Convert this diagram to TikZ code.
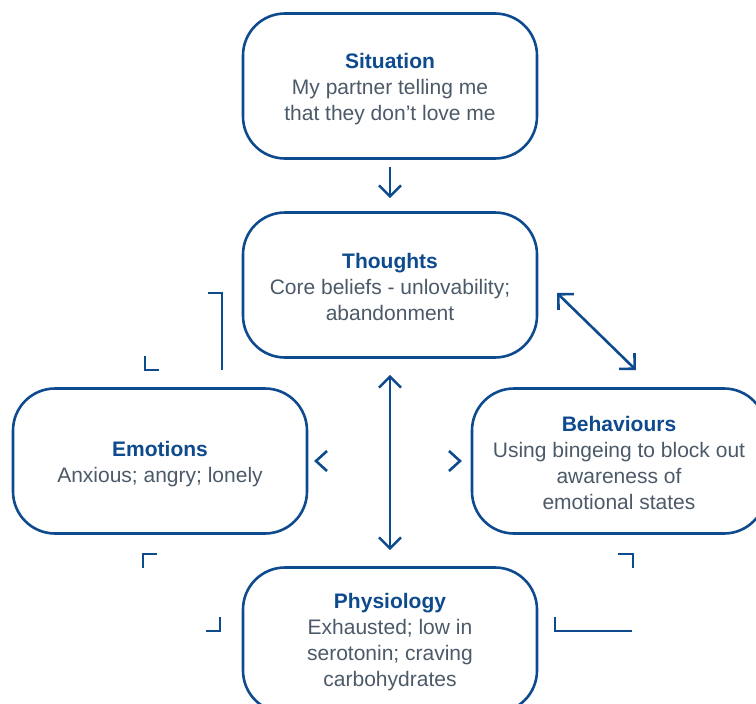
\documentclass[tikz,border=0pt]{standalone}
\usepackage{fontspec}
\setmainfont{Liberation Sans}
\usetikzlibrary{arrows.meta}
\definecolor{boxblue}{HTML}{0D4A8E}
\definecolor{bodygrey}{HTML}{4B5968}
\tikzset{
  card/.style={draw=boxblue, line width=2.6pt, rounded corners=42pt,
    minimum width=294pt, minimum height=145pt, inner sep=0pt},
  cardtext/.style={align=center, text=bodygrey, inner sep=0pt,
    font=\fontsize{21}{26}\selectfont},
  link/.style={draw=boxblue, line width=2.6pt,
    arrows={-Straight Barb[length=11pt, width=22pt, line width=2.6pt]}},
  twoway/.style={link, arrows={Straight Barb[length=11pt, width=22pt, line width=2.6pt]-Straight Barb[length=11pt, width=22pt, line width=2.6pt]}},
  stub/.style={draw=boxblue, line width=2.6pt},
  chevron/.style={draw=boxblue, line width=2.6pt, line join=miter},
}
\newcommand{\heading}[1]{{\bfseries\color{boxblue}#1}}
\begin{document}
\begin{tikzpicture}[x=1pt, y=-1pt]
  \useasboundingbox (0,0) rectangle (756,704);
  \clip (0,0) rectangle (756,704);

  % the five cards
  \node[card] (sit) at (390,86)  {};
  \node[card] (tho) at (390,285) {};
  \node[card] (emo) at (160,461) {};
  \node[card] (beh) at (619,461) {};
  \node[card] (phy) at (390,640) {};

  % their texts
  \node[cardtext] (sitT) at ([yshift=-3pt]sit.center) {\heading{Situation}\\My partner telling me\\that they don’t love me};
  \node[cardtext] (thoT) at ([yshift=-2pt]tho.center) {\heading{Thoughts}\\Core beliefs - unlovability;\\abandonment};
  \node[cardtext] (emoT) at ([yshift=-3pt]emo.center) {\heading{Emotions}\\Anxious; angry; lonely};
  \node[cardtext] (behT) at ([yshift=-2pt]beh.center) {\heading{Behaviours}\\Using bingeing to block out\\awareness of\\emotional states};
  \node[cardtext] (phyT) at ([yshift=-2pt]phy.center) {\heading{Physiology}\\Exhausted; low in\\serotonin; craving\\carbohydrates};

  % situation leads to thoughts
  \draw[link, shorten <=7pt, shorten >=13pt] (sit.south) -- (tho.north);

  % thoughts and physiology
  \draw[twoway, shorten <=16pt, shorten >=16pt] (tho.south) -- (phy.north);

  % thoughts and behaviours
  \coordinate (tb1) at (557,293);
  \coordinate (tb2) at (636,370);
  \draw[twoway] (tb1) -- (tb2);

  % chevrons beside emotions and behaviours
  \coordinate (chl) at (316,461);
  \coordinate (chr) at (460,461);
  \draw[chevron] ([shift={(11,-10)}]chl) -- (chl) -- ([shift={(11,10)}]chl);
  \draw[chevron] ([shift={(-11,-10)}]chr) -- (chr) -- ([shift={(-11,10)}]chr);

  % corner stubs around the cards
  \coordinate (s1a) at (208,293); \coordinate (s1b) at (222,293); \coordinate (s1c) at (222,370);
  \draw[stub] (s1a) -- (s1b) -- (s1c);
  \coordinate (s2a) at (145,356); \coordinate (s2b) at (145,370); \coordinate (s2c) at (159,370);
  \draw[stub] (s2a) -- (s2b) -- (s2c);
  \coordinate (s3a) at (143,568); \coordinate (s3b) at (143,554); \coordinate (s3c) at (157,554);
  \draw[stub] (s3a) -- (s3b) -- (s3c);
  \coordinate (s4a) at (206,631); \coordinate (s4b) at (220,631); \coordinate (s4c) at (220,617);
  \draw[stub] (s4a) -- (s4b) -- (s4c);
  \coordinate (s5a) at (618,554); \coordinate (s5b) at (633,554); \coordinate (s5c) at (633,568);
  \draw[stub] (s5a) -- (s5b) -- (s5c);
  \coordinate (s6a) at (555,617); \coordinate (s6b) at (555,631); \coordinate (s6c) at (632,631);
  \draw[stub] (s6a) -- (s6b) -- (s6c);
\end{tikzpicture}
\end{document}
